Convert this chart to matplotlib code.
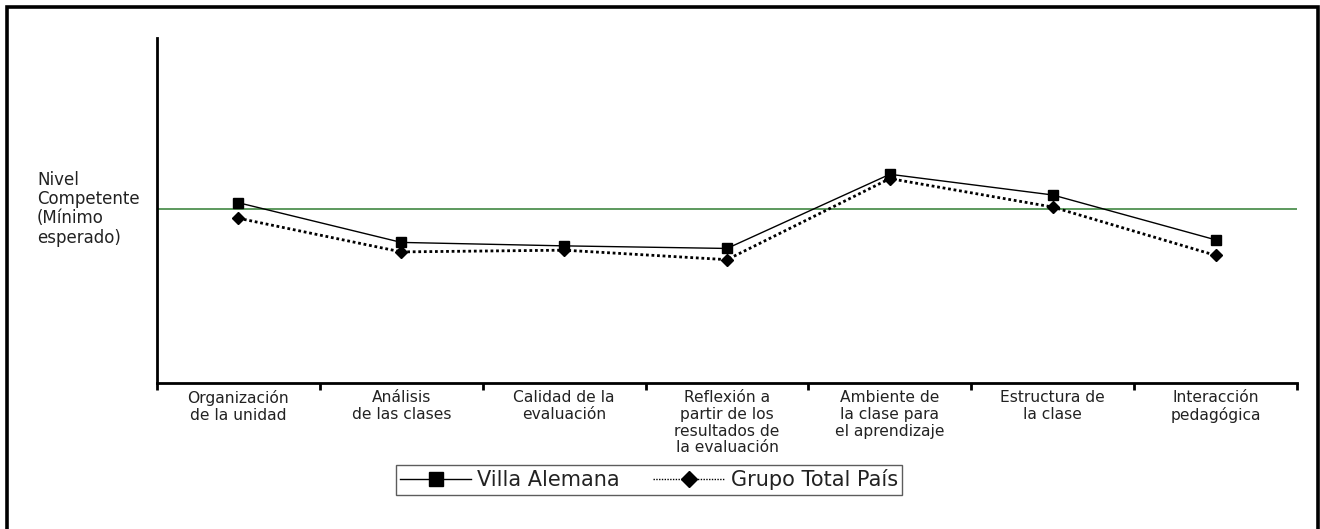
import matplotlib
matplotlib.use("Agg")
import matplotlib.pyplot as plt
from matplotlib.lines import Line2D
from matplotlib.transforms import blended_transform_factory
import numpy as np

categories = [
    "Organización\nde la unidad",
    "Análisis\nde las clases",
    "Calidad de la\nevaluación",
    "Reflexión a\npartir de los\nresultados de\nla evaluación",
    "Ambiente de\nla clase para\nel aprendizaje",
    "Estructura de\nla clase",
    "Interacción\npedagógica",
]
villa_alemana = [2.09, 1.63, 1.59, 1.56, 2.42, 2.18, 1.66]
grupo_total_pais = [1.91, 1.52, 1.54, 1.43, 2.37, 2.04, 1.48]
nivel_competente = 2.02
series_names = ["Villa Alemana", "Grupo Total País"]
level_label = "Nivel\nCompetente\n(Mínimo\nesperado)"

W, H = 1320, 529
fig = plt.figure(figsize=(W / 100, H / 100), dpi=100)
fig.patch.set_facecolor("white")
ax = fig.add_axes([157 / W, 1 - 383 / H, (1297 - 157) / W, (383 - 38) / H])

x = np.arange(len(categories))
ax.axhline(nivel_competente, color="#4f9150", lw=1.3, zorder=1)
ax.plot(x, villa_alemana, color="black", lw=1.0, ls="-", marker="s",
        markersize=6.5, markerfacecolor="black", markeredgecolor="black", zorder=3)
ax.plot(x, grupo_total_pais, color="black", lw=2.0, ls=(0, (1, 1)), marker="D",
        markersize=6, markerfacecolor="black", markeredgecolor="black", zorder=3)

ax.set_xlim(-0.5, len(categories) - 0.5)
ax.set_ylim(0, 4)
ax.set_yticks([])
ax.set_xticks(np.arange(-0.5, len(categories), 1.0))
ax.set_xticklabels([])
ax.set_xticks(x, minor=True)
ax.set_xticklabels(categories, minor=True, fontsize=11.2, family="DejaVu Sans",
                   va="top", ha="center", color="#222222", linespacing=1.15)
ax.tick_params(axis="x", which="major", direction="out", length=5, width=2, color="black")
ax.tick_params(axis="x", which="minor", length=0, pad=5)
for s in ["top", "right"]:
    ax.spines[s].set_visible(False)
for s in ["left", "bottom"]:
    ax.spines[s].set_linewidth(2)
    ax.spines[s].set_color("black")

trans = blended_transform_factory(fig.transFigure, ax.transData)
ax.text(37 / W, nivel_competente, level_label, transform=trans, ha="left", va="center",
        fontsize=12, family="DejaVu Sans", color="#222222", linespacing=1.1)

handles = [
    Line2D([], [], color="black", lw=1.0, ls="-", marker="s", markersize=10,
           markerfacecolor="black", markeredgecolor="black"),
    Line2D([], [], color="black", lw=1.0, ls=(0, (1, 1)), marker="D", markersize=8.5,
           markerfacecolor="black", markeredgecolor="black"),
]
leg = fig.legend(handles, series_names, loc="center", bbox_to_anchor=(649 / W, 1 - 480 / H),
                 ncol=2, fontsize=15, frameon=True, fancybox=False, edgecolor="#333333",
                 handlelength=3.4, columnspacing=1.6, borderpad=0.2, handletextpad=0.3,
                 borderaxespad=0)
leg.get_frame().set_linewidth(1.0)
for t in leg.get_texts():
    t.set_color("#222222")

# outer frame (open at the bottom)
frame = Line2D([7 / W, 7 / W, 1317.5 / W, 1317.5 / W],
               [0, 1 - 7 / H, 1 - 7 / H, 0], transform=fig.transFigure,
               color="black", lw=2.6, solid_joinstyle="miter")
fig.add_artist(frame)

fig.savefig("out.png", dpi=100, facecolor="white")
